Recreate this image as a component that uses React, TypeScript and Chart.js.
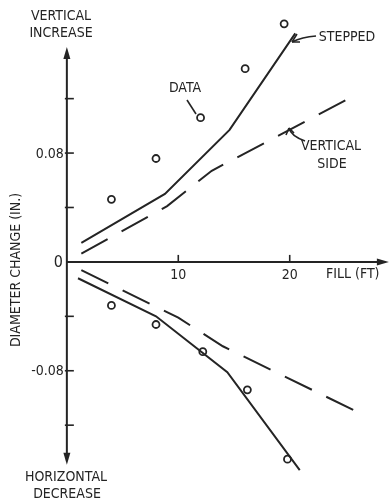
import React, { useEffect, useRef } from "react";
import { Chart, registerables } from "chart.js";
Chart.register(...registerables);

// Measured data points (circles)
const dataFillUp = [4, 8, 12, 16, 19.5];
const dataIncrease = [0.046, 0.076, 0.106, 0.142, 0.175];
const dataFillDown = [4, 8, 12.2, 16.2, 19.8];
const dataDecrease = [-0.032, -0.046, -0.066, -0.094, -0.145];
// Stepped (solid) curves
const steppedUpFill = [1.3, 8.8, 14.6, 20.5];
const steppedUpChange = [0.014, 0.05, 0.097, 0.168];
const steppedDownFill = [1, 8, 14.4, 20.9];
const steppedDownChange = [-0.012, -0.04, -0.081, -0.153];
// Vertical side (dashed) curves
const sideUpFill = [1.3, 9, 13, 26];
const sideUpChange = [0.006, 0.041, 0.067, 0.123];
const sideDownFill = [1.3, 10, 14, 26];
const sideDownChange = [-0.006, -0.041, -0.062, -0.11];
// Axis ticks
const xTickValues = [10, 20];
const yLabelValues = [0.08, -0.08];
const yTickValues = [0.12, 0.08, 0.04, -0.04, -0.08, -0.12];

const INK = "#242424";
const FAM = '"Liberation Sans Narrow", "DejaVu Sans Condensed", "DejaVu Sans", sans-serif';
const FONT = "14px " + FAM;

const pts = (xs: number[], ys: number[]) => xs.map((x, i) => ({ x, y: ys[i] }));

const decorPlugin = {
  id: "decor",
  beforeDatasetsDraw(chart: any) {
    const { ctx } = chart;
    const xs = chart.scales.x;
    const ys = chart.scales.y;
    const X = (v: number) => xs.getPixelForValue(v);
    const Y = (v: number) => ys.getPixelForValue(v);
    const x0 = X(0);
    const y0 = Y(0);
    ctx.save();
    ctx.strokeStyle = INK;
    ctx.fillStyle = INK;
    ctx.lineWidth = 2;
    // y axis
    ctx.beginPath();
    ctx.moveTo(x0, Y(0.152));
    ctx.lineTo(x0, Y(-0.146));
    ctx.stroke();
    const topY = Y(0.158);
    ctx.beginPath();
    ctx.moveTo(x0, topY);
    ctx.lineTo(x0 - 3.5, topY + 12);
    ctx.lineTo(x0 + 3.5, topY + 12);
    ctx.closePath();
    ctx.fill();
    const botY = Y(-0.149);
    ctx.beginPath();
    ctx.moveTo(x0, botY);
    ctx.lineTo(x0 - 3.5, botY - 12);
    ctx.lineTo(x0 + 3.5, botY - 12);
    ctx.closePath();
    ctx.fill();
    // x axis
    ctx.beginPath();
    ctx.moveTo(x0, y0);
    ctx.lineTo(X(28.2), y0);
    ctx.stroke();
    const tipX = X(28.9);
    ctx.beginPath();
    ctx.moveTo(tipX, y0);
    ctx.lineTo(tipX - 12, y0 - 3.5);
    ctx.lineTo(tipX - 12, y0 + 3.5);
    ctx.closePath();
    ctx.fill();
    // ticks
    ctx.lineWidth = 1.6;
    yTickValues.forEach((v) => {
      ctx.beginPath();
      ctx.moveTo(x0 - 2, Y(v));
      ctx.lineTo(x0 + 7, Y(v));
      ctx.stroke();
    });
    xTickValues.forEach((v) => {
      ctx.beginPath();
      ctx.moveTo(X(v), y0);
      ctx.lineTo(X(v), y0 - 7);
      ctx.stroke();
    });
    ctx.restore();
  },
  afterDraw(chart: any) {
    const { ctx } = chart;
    const xs = chart.scales.x;
    const ys = chart.scales.y;
    const X = (v: number) => xs.getPixelForValue(v);
    const Y = (v: number) => ys.getPixelForValue(v);
    const x0 = X(0);
    const y0 = Y(0);
    ctx.save();
    ctx.fillStyle = INK;
    ctx.strokeStyle = INK;
    ctx.font = FONT;
    ctx.textBaseline = "middle";
    // tick labels
    ctx.textAlign = "right";
    yLabelValues.forEach((v) => {
      ctx.fillText(v.toFixed(2), x0 - 3, Y(v) + 1);
    });
    ctx.font = "16px " + FAM;
    ctx.fillText("0", x0 - 4, y0 + 1);
    ctx.font = FONT;
    ctx.textAlign = "center";
    xTickValues.forEach((v) => {
      ctx.fillText(String(v), X(v), y0 + 13);
    });
    ctx.textAlign = "left";
    ctx.fillText("FILL (FT)", 326, y0 + 12);
    // axis end labels
    ctx.textAlign = "center";
    ctx.fillText("VERTICAL", 61, 16);
    ctx.fillText("INCREASE", 61, 33);
    ctx.fillText("HORIZONTAL", 66, 477);
    ctx.fillText("DECREASE", 67, 494);
    // y title
    ctx.save();
    ctx.translate(16, 270);
    ctx.rotate(-Math.PI / 2);
    ctx.fillText("DIAMETER CHANGE (IN.)", 0, 0);
    ctx.restore();
    // annotations
    ctx.fillText("DATA", 185, 88);
    ctx.fillText("STEPPED", 347, 37);
    ctx.fillText("VERTICAL", 331, 146);
    ctx.fillText("SIDE", 332, 164);
    ctx.lineWidth = 1.6;
    // DATA leader
    ctx.beginPath();
    ctx.moveTo(187, 100);
    ctx.lineTo(196, 114);
    ctx.stroke();
    // STEPPED arrow
    ctx.beginPath();
    ctx.moveTo(316, 36);
    ctx.quadraticCurveTo(302, 37, 292, 42);
    ctx.stroke();
    ctx.beginPath();
    ctx.moveTo(292, 42);
    ctx.lineTo(297, 34);
    ctx.moveTo(292, 42);
    ctx.lineTo(300, 42);
    ctx.stroke();
    // VERTICAL SIDE arrow
    ctx.beginPath();
    ctx.moveTo(305, 141);
    ctx.quadraticCurveTo(291, 136, 289, 128);
    ctx.stroke();
    ctx.beginPath();
    ctx.moveTo(289, 128);
    ctx.lineTo(286, 135);
    ctx.moveTo(289, 128);
    ctx.lineTo(294, 133);
    ctx.stroke();
    ctx.restore();
  },
};

export default function App() {
  const ref = useRef<HTMLCanvasElement | null>(null);
  useEffect(() => {
    if (!ref.current) return;
    const lineDs = (label: string, data: any, dashed: boolean) => ({
      type: "line" as const,
      label,
      data,
      borderColor: INK,
      borderWidth: 2,
      borderDash: dashed ? [30, 16] : [],
      pointRadius: 0,
      fill: false,
      tension: 0,
    });
    const pointDs = (label: string, data: any) => ({
      type: "scatter" as const,
      label,
      data,
      pointRadius: 3.5,
      pointBorderWidth: 1.8,
      pointBackgroundColor: "#ffffff",
      pointBorderColor: INK,
      showLine: false,
    });
    const chart = new Chart(ref.current, {
      type: "scatter",
      data: {
        datasets: [
          lineDs("Stepped increase", pts(steppedUpFill, steppedUpChange), false),
          lineDs("Vertical side increase", pts(sideUpFill, sideUpChange), true),
          lineDs("Stepped decrease", pts(steppedDownFill, steppedDownChange), false),
          lineDs("Vertical side decrease", pts(sideDownFill, sideDownChange), true),
          pointDs("Data increase", pts(dataFillUp, dataIncrease)),
          pointDs("Data decrease", pts(dataFillDown, dataDecrease)),
        ] as any,
      },
      options: {
        animation: false,
        responsive: false,
        devicePixelRatio: 1,
        layout: { padding: 0, autoPadding: false },
        plugins: { legend: { display: false }, tooltip: { enabled: false } },
        scales: {
          x: { type: "linear", min: -6, max: 29, display: false },
          y: { type: "linear", min: -0.175, max: 0.1925, display: false },
        },
      },
      plugins: [decorPlugin],
    });
    return () => chart.destroy();
  }, []);
  return (
    <div style={{ position: "absolute", left: 0, top: 0, width: 390, height: 500, background: "#fff" }}>
      <canvas ref={ref} width={390} height={500} style={{ width: 390, height: 500 }} />
    </div>
  );
}
